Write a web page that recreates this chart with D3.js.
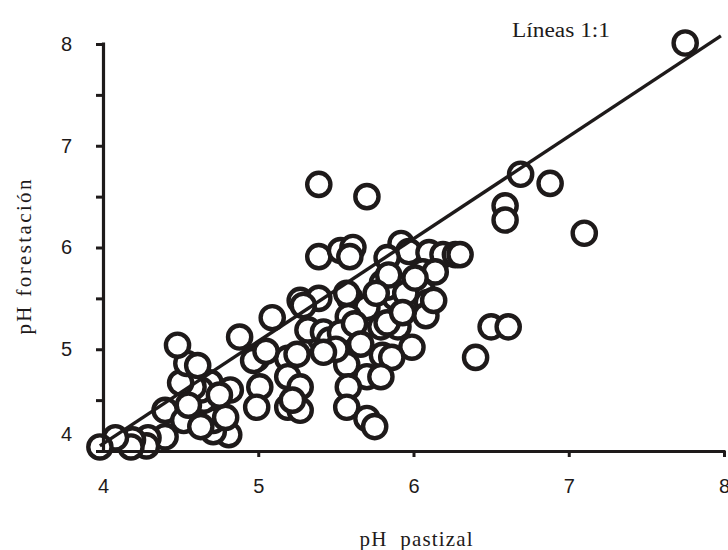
<!DOCTYPE html>
<html>
<head>
<meta charset="utf-8">
<script src="https://cdn.jsdelivr.net/npm/d3@7"></script>
<style>
  body { margin: 0; background: #fff; }
  svg { display: block; }
</style>
</head>
<body>
<svg id="chart" width="728" height="550"></svg>
<script>
// ---- data ----
const xTicks = [4, 5, 6, 7, 8];
const yTicks = [4, 4.5, 5, 5.5, 6, 6.5, 7, 7.5, 8];
const pastizal = [
  7.75, 6.88, 6.69, 7.10, 6.59, 6.59, 6.50, 6.61, 6.40,
  5.39, 5.70, 5.39, 5.53, 5.61, 5.59, 5.92, 5.97, 5.83, 6.10, 6.19, 6.27, 6.30,
  6.06, 6.14, 5.80, 5.88, 6.06, 6.09, 6.08, 5.59, 5.70, 5.58, 5.79, 5.90, 5.99,
  5.58, 5.48, 5.40, 5.80, 5.86, 5.57, 5.70, 5.79, 5.58, 5.57, 5.70, 5.75, 5.83,
  5.83, 5.27, 5.39, 6.13, 5.09, 5.29, 5.32, 5.42, 5.46, 5.53, 5.57, 5.84,
  5.19, 5.19, 5.27, 5.19, 5.27, 4.99, 5.01, 4.99, 4.88, 4.97, 4.82,
  4.81, 4.71, 4.71, 4.79, 4.69, 4.65, 4.63, 4.58, 4.50, 4.54, 4.61, 4.48,
  4.46, 4.40, 4.52, 4.63, 4.40, 4.29, 4.28, 4.19, 4.18, 4.08, 3.98,
  5.22, 5.25, 4.55, 4.75, 5.05, 5.62, 5.66, 5.50, 5.42, 5.76, 5.95, 6.01, 5.93
];
const forestacion = [
  8.01, 6.63, 6.72, 6.14, 6.41, 6.27, 5.22, 5.22, 4.92,
  6.62, 6.50, 5.91, 5.97, 6.00, 5.91, 6.04, 5.96, 5.90, 5.95, 5.93, 5.93, 5.93,
  5.76, 5.76, 5.65, 5.51, 5.56, 5.46, 5.33, 5.50, 5.41, 5.32, 5.22, 5.22, 5.02,
  5.12, 5.12, 5.11, 4.94, 4.92, 4.85, 4.73, 4.73, 4.63, 4.43, 4.32, 4.24, 5.61,
  5.26, 5.48, 5.50, 5.48, 5.31, 5.43, 5.19, 5.17, 5.09, 5.16, 5.55, 5.73,
  4.91, 4.73, 4.63, 4.43, 4.40, 4.91, 4.63, 4.43, 5.12, 4.89, 4.60,
  4.16, 4.19, 4.30, 4.33, 4.67, 4.50, 4.60, 4.63, 4.67, 4.86, 4.84, 5.04,
  4.35, 4.40, 4.30, 4.24, 4.14, 4.13, 4.05, 4.11, 4.04, 4.13, 4.04,
  4.50, 4.95, 4.45, 4.55, 4.98, 5.25, 5.05, 5.00, 4.97, 5.55, 5.55, 5.70, 5.36
];
const lineX = [3.98, 7.98];
const lineY = [4.05, 8.08];
const labelText = "Líneas 1:1";
const xTitle = "pH  pastizal";
const yTitle = "pH forestación";

// ---- drawing ----
const svg = d3.select("#chart");
const x = d3.scaleLinear().domain([4, 8]).range([103, 724]);
const y = d3.scaleLinear().domain([4, 8]).range([451, 44]);

// points
const pts = pastizal.map((v, i) => ({ x: v, y: forestacion[i] }));
svg.append("g").selectAll("circle").data(pts).join("circle")
  .attr("cx", d => x(d.x)).attr("cy", d => y(d.y)).attr("r", 11.6)
  .attr("fill", "#fff").attr("stroke", "#1e1a1a").attr("stroke-width", 4.4);

// 1:1 line
svg.append("line")
  .attr("x1", x(lineX[0])).attr("y1", y(lineY[0]))
  .attr("x2", x(lineX[1])).attr("y2", y(lineY[1]))
  .attr("stroke", "#1e1a1a").attr("stroke-width", 3.4);

// axes
const xAxis = d3.axisBottom(x).tickValues(xTicks).tickSize(6).tickSizeOuter(0).tickPadding(24)
  .tickFormat(d3.format("d"));
const gx = svg.append("g").attr("transform", "translate(0,451)").call(xAxis);
gx.select(".domain").attr("stroke", "#1e1a1a").attr("stroke-width", 3.2)
  .attr("d", `M${x(4) - 2},0.5H${x(8) + 1.5}`);
gx.selectAll(".tick line").attr("stroke", "#1e1a1a").attr("stroke-width", 3);
gx.selectAll(".tick text").attr("font-family", "Liberation Sans, Arial, sans-serif")
  .attr("font-size", 20).attr("fill", "#1e1a1a").attr("dy", "0.6em");
gx.selectAll(".tick").filter(d => d === 4).select("line").remove();

const yAxis = d3.axisLeft(y).tickValues(yTicks).tickSize(7).tickSizeOuter(0).tickPadding(24)
  .tickFormat(d => Number.isInteger(d) ? d3.format("d")(d) : "");
const gy = svg.append("g").attr("transform", "translate(103,0)").call(yAxis);
gy.select(".domain").attr("stroke", "#1e1a1a").attr("stroke-width", 3.2)
  .attr("d", `M0.5,${y(4) + 1.5}V${y(8) - 1.5}`);
gy.selectAll(".tick line").attr("stroke", "#1e1a1a").attr("stroke-width", 3);
gy.selectAll(".tick text").attr("font-family", "Liberation Sans, Arial, sans-serif")
  .attr("font-size", 20).attr("fill", "#1e1a1a");
gy.selectAll(".tick").filter(d => d === 4).select("text").attr("y", -17);

// texts
svg.append("text").attr("x", 512).attr("y", 37)
  .attr("font-family", "Liberation Serif, Times New Roman, serif").attr("font-size", 20)
  .attr("textLength", 98).attr("lengthAdjust", "spacingAndGlyphs")
  .attr("fill", "#1e1a1a").text(labelText);

svg.append("text").attr("x", 416).attr("y", 546).attr("text-anchor", "middle")
  .attr("font-family", "Liberation Serif, Times New Roman, serif").attr("font-size", 21)
  .attr("textLength", 113).attr("lengthAdjust", "spacing")
  .attr("fill", "#1e1a1a").style("white-space", "pre").text(xTitle);

svg.append("text").attr("transform", "translate(31,257) rotate(-90)").attr("text-anchor", "middle")
  .attr("font-family", "Liberation Serif, Times New Roman, serif").attr("font-size", 21)
  .attr("textLength", 155).attr("lengthAdjust", "spacing")
  .attr("fill", "#1e1a1a").text(yTitle);
</script>
</body>
</html>
